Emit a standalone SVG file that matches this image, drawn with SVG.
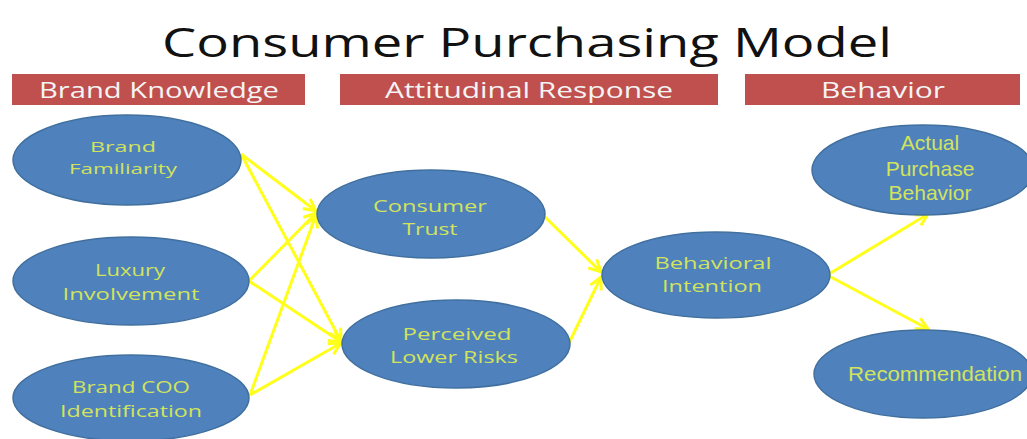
<svg xmlns="http://www.w3.org/2000/svg" width="1027" height="439" viewBox="0 0 1027 439">
<style>
.title{font-family:"Open Sans","Liberation Sans",sans-serif;font-size:40px;font-weight:500;fill:#111;text-anchor:middle}
.bar{fill:#C0504D}
.hdr{font-family:"Open Sans","Liberation Sans",sans-serif;font-size:22px;font-weight:500;fill:#F4F4F4;text-anchor:middle}
.node{fill:#4F81BD;stroke:#41709F;stroke-width:1.5}
.lbl{font-family:"Open Sans","DejaVu Sans",sans-serif;font-size:17px;font-weight:500;fill:#D2E35C;text-anchor:middle}
.sm{font-size:15px}
.lbl2{font-family:"Liberation Sans",Arial,sans-serif;font-size:21px;fill:#D2E35C;text-anchor:middle}
.edge{stroke:#FFFF1A;stroke-width:3;fill:none;marker-end:url(#arr)}
</style>
<defs>
<marker id="arr" markerUnits="userSpaceOnUse" markerWidth="16" markerHeight="16" refX="13" refY="7" orient="auto" viewBox="0 0 16 14">
<path d="M1,1 L13,7 L1,13" fill="none" stroke="#FFFF1A" stroke-width="3"/>
</marker>
</defs>
<rect width="1027" height="439" fill="#FFFFFF"/>
<text class="title" x="527" y="57" textLength="730" lengthAdjust="spacingAndGlyphs">Consumer Purchasing Model</text>
<g id="hdr-brand-knowledge">
<rect class="bar" x="12" y="74" width="293" height="31"/>
<text class="hdr" x="159" y="98" textLength="240" lengthAdjust="spacingAndGlyphs">Brand Knowledge</text>
</g>
<g id="hdr-attitudinal">
<rect class="bar" x="340" y="74" width="378" height="31"/>
<text class="hdr" x="529" y="98" textLength="288" lengthAdjust="spacingAndGlyphs">Attitudinal Response</text>
</g>
<g id="hdr-behavior">
<rect class="bar" x="745" y="74" width="275" height="31"/>
<text class="hdr" x="883" y="98" textLength="124" lengthAdjust="spacingAndGlyphs">Behavior</text>
</g>
<g id="connectors">
<line class="edge" x1="241" y1="154" x2="316" y2="211"/>
<line class="edge" x1="241" y1="154" x2="341" y2="341"/>
<line class="edge" x1="249" y1="281" x2="316" y2="213"/>
<line class="edge" x1="249" y1="281" x2="341" y2="342"/>
<line class="edge" x1="250" y1="395" x2="316" y2="215"/>
<line class="edge" x1="250" y1="395" x2="341" y2="343"/>
<line class="edge" x1="545" y1="217" x2="601" y2="272"/>
<line class="edge" x1="568" y1="345" x2="601" y2="277"/>
<line class="edge" x1="829" y1="274" x2="928" y2="214"/>
<line class="edge" x1="829" y1="276" x2="928" y2="329"/>
</g>
<g id="brand-familiarity">
<ellipse class="node" cx="127" cy="160" rx="114" ry="45"/>
<text class="lbl sm" x="123" y="152" textLength="66" lengthAdjust="spacingAndGlyphs">Brand</text>
<text class="lbl sm" x="123" y="174" textLength="108" lengthAdjust="spacingAndGlyphs">Familiarity</text>
</g>
<g id="luxury-involvement">
<ellipse class="node" cx="131" cy="281" rx="118" ry="44"/>
<text class="lbl" x="130" y="276" textLength="70" lengthAdjust="spacingAndGlyphs">Luxury</text>
<text class="lbl" x="131" y="300" textLength="137" lengthAdjust="spacingAndGlyphs">Involvement</text>
</g>
<g id="brand-coo">
<ellipse class="node" cx="131" cy="398" rx="118" ry="43"/>
<text class="lbl" x="131" y="393" textLength="118" lengthAdjust="spacingAndGlyphs">Brand COO</text>
<text class="lbl" x="131" y="417" textLength="142" lengthAdjust="spacingAndGlyphs">Identification</text>
</g>
<g id="consumer-trust">
<ellipse class="node" cx="431" cy="214" rx="114" ry="44"/>
<text class="lbl" x="430" y="212" textLength="114" lengthAdjust="spacingAndGlyphs">Consumer</text>
<text class="lbl" x="430" y="235" textLength="55" lengthAdjust="spacingAndGlyphs">Trust</text>
</g>
<g id="perceived-lower-risks">
<ellipse class="node" cx="456" cy="344" rx="114" ry="44"/>
<text class="lbl" x="457" y="340" textLength="109" lengthAdjust="spacingAndGlyphs">Perceived</text>
<text class="lbl" x="454" y="363" textLength="128" lengthAdjust="spacingAndGlyphs">Lower Risks</text>
</g>
<g id="behavioral-intention">
<ellipse class="node" cx="716" cy="275" rx="114" ry="43"/>
<text class="lbl" x="713" y="269" textLength="117" lengthAdjust="spacingAndGlyphs">Behavioral</text>
<text class="lbl" x="712" y="292" textLength="100" lengthAdjust="spacingAndGlyphs">Intention</text>
</g>
<g id="actual-purchase-behavior">
<ellipse class="node" cx="923" cy="170" rx="111" ry="45"/>
<text class="lbl2" x="930" y="150">Actual</text>
<text class="lbl2" x="930" y="176">Purchase</text>
<text class="lbl2" x="930" y="200">Behavior</text>
</g>
<g id="recommendation">
<ellipse class="node" cx="923" cy="374" rx="109" ry="44"/>
<text class="lbl2" x="935" y="381" textLength="174" lengthAdjust="spacingAndGlyphs">Recommendation</text>
</g>
</svg>
